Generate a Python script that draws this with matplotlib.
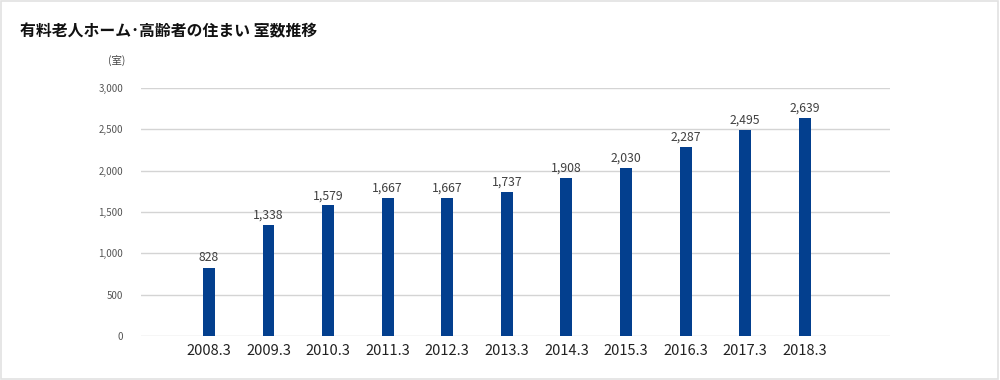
import matplotlib
matplotlib.use('Agg')
import matplotlib.pyplot as plt
from matplotlib.patches import Rectangle
from matplotlib.ticker import FuncFormatter

plt.rcParams['font.family'] = ['Noto Sans CJK JP', 'DejaVu Sans']

years = ['2008.3', '2009.3', '2010.3', '2011.3', '2012.3', '2013.3',
         '2014.3', '2015.3', '2016.3', '2017.3', '2018.3']
rooms = [828, 1338, 1579, 1667, 1667, 1737, 1908, 2030, 2287, 2495, 2639]

bar_color = '#033f8e'

fig = plt.figure(figsize=(10, 3.8), dpi=100)
fig.patch.set_facecolor('white')
# thin light frame round the whole picture
fig.patches.append(Rectangle((0.001, 0.002), 0.997, 0.995, transform=fig.transFigure,
                             fill=False, edgecolor='#e2e2e2', linewidth=1.2))

ax = fig.add_axes([0.141, 0.1158, 0.749, 0.6526])
x = list(range(len(years)))
bars = ax.bar(x, rooms, width=0.2, color=bar_color, zorder=3)

for xi, v in zip(x, rooms):
    ax.text(xi, v + 40, f'{v:,}', ha='center', va='bottom', fontsize=8.8, color='#404040')

ax.set_ylim(0, 3000)
ax.set_xlim(-1.14, len(years) - 1 + 1.43)
ax.set_yticks(range(0, 3001, 500))
ax.yaxis.set_major_formatter(FuncFormatter(lambda v, p: f'{int(v):,}'))
ax.set_xticks(x)
ax.set_xticklabels(years)
ax.tick_params(axis='y', length=0, pad=13, labelsize=7, labelcolor='#555555')
ax.tick_params(axis='x', length=0, pad=6, labelsize=10.5, labelcolor='#222222')
ax.grid(axis='y', color='#d4d4d4', linewidth=1, zorder=0)
for s in ax.spines.values():
    s.set_visible(False)

fig.text(0.020, 0.918, '有料老人ホーム･高齢者の住まい 室数推移', fontsize=11.4,
         fontweight='bold', color='#111111', va='center')
fig.text(0.117, 0.842, '(室)', fontsize=7.5, color='#444444', ha='center', va='center')

plt.savefig('out.png', dpi=100)
